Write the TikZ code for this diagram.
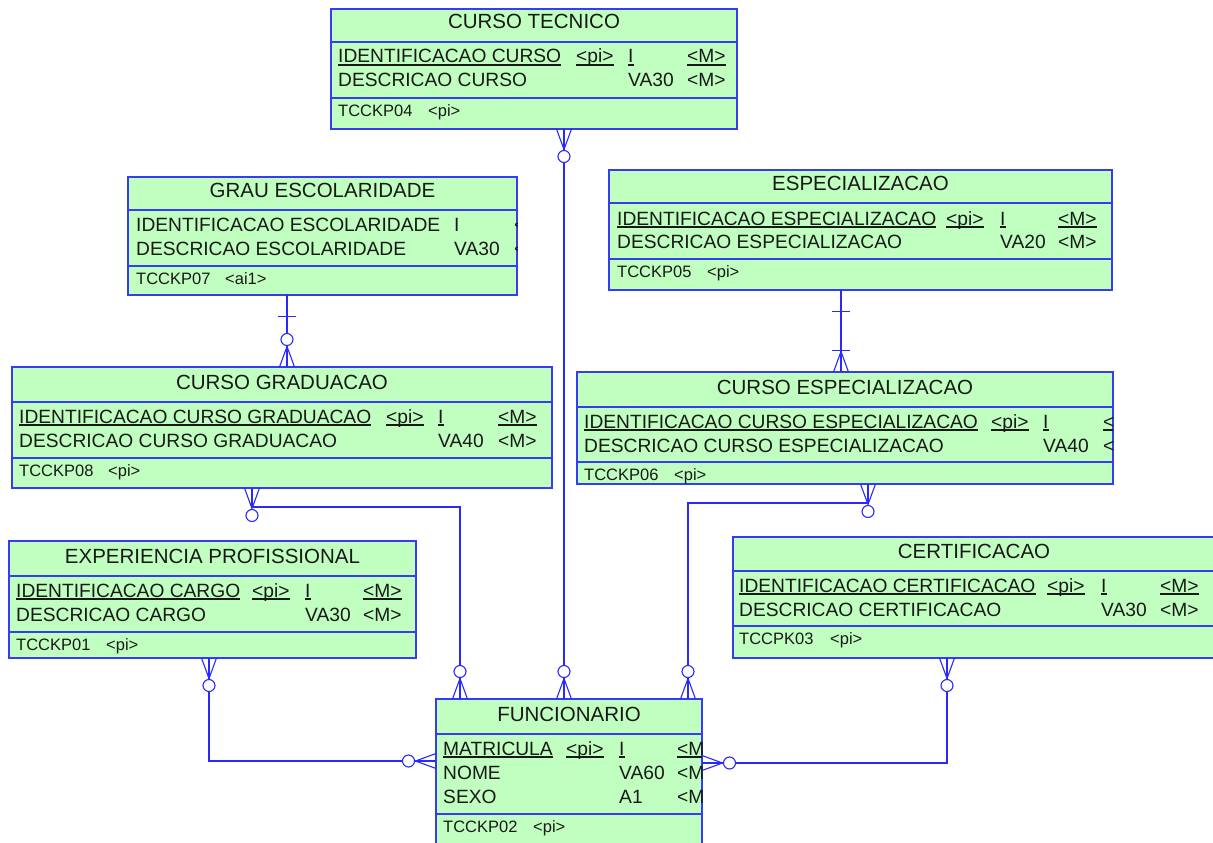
\documentclass[tikz,border=0pt]{standalone}
\usepackage{fontspec}
\setmainfont{Liberation Sans}
\usetikzlibrary{fit}
\definecolor{entfill}{RGB}{192,255,192}
\definecolor{entdraw}{RGB}{55,60,240}
\definecolor{reldraw}{RGB}{40,40,255}
\newcounter{ERn}
\tikzset{
  entbox/.style={draw=entdraw, fill=entfill, line width=1.2pt, inner sep=0pt, outer sep=0pt},
  entline/.style={draw=entdraw, line width=1.2pt},
  ttl/.style={anchor=base, inner sep=0pt, font=\fontsize{20.5}{24}\selectfont, text=black!90},
  atxt/.style={anchor=base west, inner sep=0pt, font=\fontsize{19.2}{22}\selectfont, text=black!90},
  ftxt/.style={anchor=base west, inner sep=0pt, font=\fontsize{16.5}{20}\selectfont, text=black!90},
  ulline/.style={draw=black!90, line width=1.8pt},
  rel/.style={draw=reldraw, line width=1.1pt},
  optc/.style={draw=reldraw, fill=white, line width=1.1pt}
}
\newcommand{\ERbox}[8]{%
  \node[entbox, fit={(#2,#4) (#3,#7)}] (#1) {};
  \draw[entline] (#2,#5) -- (#3,#5);
  \draw[entline] (#2,#6) -- (#3,#6);
  \node[ttl] (#1t) at ({(#2+#3)/2},{#5-13}) {#8};
}
\newcommand{\ERt}[3]{\stepcounter{ERn}\node[atxt] (lb\theERn) at (#1,#2) {#3};}
\newcommand{\ERk}[3]{\stepcounter{ERn}\node[atxt] (lb\theERn) at (#1,#2) {#3};
  \draw[ulline] ([yshift=-2.2pt]lb\theERn.base west) -- ([yshift=-2.2pt]lb\theERn.base east);}
\newcommand{\ERf}[3]{\stepcounter{ERn}\node[ftxt] (lb\theERn) at (#1,#2) {#3};}
% crow's foot + optional circle; #1 point on entity edge, #2 rotation (0=down,180=up,90=right,-90=left)
\newcommand{\ERmanyopt}[2]{%
  \begin{scope}[shift={#1}, rotate=#2]
    \draw[rel] (-7.5,0) -- (0,20.5) -- (7.5,0) (0,0) -- (0,20.5);
    \draw[optc] (0,27.5) circle[radius=6pt];
  \end{scope}}
\newcommand{\ERmanymand}[2]{%
  \begin{scope}[shift={#1}, rotate=#2]
    \draw[rel] (-7.5,0) -- (0,20.5) -- (7.5,0) (0,0) -- (0,20.5);
    \draw[rel] (-9,21.5) -- (9,21.5);
  \end{scope}}
\newcommand{\ERone}[2]{%
  \begin{scope}[shift={#1}, rotate=#2]
    \draw[rel] (-9,21.5) -- (9,21.5);
  \end{scope}}
\begin{document}
\begin{tikzpicture}[x=1pt,y=-1pt]
\useasboundingbox (0,0) rectangle (1213,843);
\clip (0,0) rectangle (1213,843);
\fill[white] (0,0) rectangle (1213,843);

% CURSO TECNICO
\ERbox{ct}{331}{737}{9}{42}{98}{129}{CURSO TECNICO}
\ERk{338}{63}{IDENTIFICACAO CURSO}\ERk{576}{63}{<pi>}\ERk{628}{63}{I}\ERk{687}{63}{<M>}
\ERt{338}{87}{DESCRICAO CURSO}\ERt{628}{87}{VA30}\ERt{687}{87}{<M>}
\ERf{338}{116}{TCCKP04}\ERf{428}{116}{<pi>}

% GRAU ESCOLARIDADE
\ERbox{ge}{128}{517}{177}{210}{266}{295}{GRAU ESCOLARIDADE}
\begin{scope}
\clip (128,177) rectangle (517,295);
\ERt{136}{231}{IDENTIFICACAO ESCOLARIDADE}\ERt{454}{231}{I}\ERt{514}{231}{<M>}
\ERt{136}{255}{DESCRICAO ESCOLARIDADE}\ERt{454}{255}{VA30}\ERt{514}{255}{<M>}
\end{scope}
\ERf{136}{284}{TCCKP07}\ERf{225}{284}{<ai1>}

% CURSO GRADUACAO
\ERbox{cg}{12}{552}{367}{402}{458}{488}{CURSO GRADUACAO}
\ERk{19}{423}{IDENTIFICACAO CURSO GRADUACAO}\ERk{386}{423}{<pi>}\ERk{438}{423}{I}\ERk{498}{423}{<M>}
\ERt{19}{447}{DESCRICAO CURSO GRADUACAO}\ERt{438}{447}{VA40}\ERt{498}{447}{<M>}
\ERf{19}{476}{TCCKP08}\ERf{108}{476}{<pi>}

% EXPERIENCIA PROFISSIONAL
\ERbox{ep}{9}{416}{541}{576}{632}{658}{EXPERIENCIA PROFISSIONAL}
\ERk{16}{597}{IDENTIFICACAO CARGO}\ERk{252}{597}{<pi>}\ERk{305}{597}{I}\ERk{363}{597}{<M>}
\ERt{16}{621}{DESCRICAO CARGO}\ERt{305}{621}{VA30}\ERt{363}{621}{<M>}
\ERf{16}{650}{TCCKP01}\ERf{106}{650}{<pi>}

% ESPECIALIZACAO
\ERbox{es}{609}{1112}{170}{203}{259}{290}{ESPECIALIZACAO}
\ERk{617}{225}{IDENTIFICACAO ESPECIALIZACAO}\ERk{946}{225}{<pi>}\ERk{1000}{225}{I}\ERk{1058}{225}{<M>}
\ERt{617}{248}{DESCRICAO ESPECIALIZACAO}\ERt{1000}{248}{VA20}\ERt{1058}{248}{<M>}
\ERf{617}{277}{TCCKP05}\ERf{707}{277}{<pi>}

% CURSO ESPECIALIZACAO
\ERbox{ce}{577}{1113}{372}{407}{462}{484}{CURSO ESPECIALIZACAO}
\begin{scope}
\clip (577,372) rectangle (1113,484);
\ERk{584}{428}{IDENTIFICACAO CURSO ESPECIALIZACAO}\ERk{991}{428}{<pi>}\ERk{1043}{428}{I}\ERk{1103}{428}{<M>}
\ERt{584}{452}{DESCRICAO CURSO ESPECIALIZACAO}\ERt{1043}{452}{VA40}\ERt{1103}{452}{<M>}
\end{scope}
\ERf{584}{480}{TCCKP06}\ERf{674}{480}{<pi>}

% CERTIFICACAO
\ERbox{cr}{733}{1215}{537}{571}{626}{658}{CERTIFICACAO}
\ERk{739}{592}{IDENTIFICACAO CERTIFICACAO}\ERk{1047}{592}{<pi>}\ERk{1101}{592}{I}\ERk{1160}{592}{<M>}
\ERt{739}{616}{DESCRICAO CERTIFICACAO}\ERt{1101}{616}{VA30}\ERt{1160}{616}{<M>}
\ERf{739}{644}{TCCPK03}\ERf{830}{644}{<pi>}

% FUNCIONARIO
\ERbox{fu}{436}{702}{699}{734}{814}{852}{FUNCIONARIO}
\begin{scope}
\clip (436,699) rectangle (702,852);
\ERk{443}{755}{MATRICULA}\ERk{566}{755}{<pi>}\ERk{619}{755}{I}\ERk{677}{755}{<M>}
\ERt{443}{779}{NOME}\ERt{619}{779}{VA60}\ERt{677}{779}{<M>}
\ERt{443}{803}{SEXO}\ERt{619}{803}{A1}\ERt{677}{803}{<M>}
\end{scope}
\ERf{443}{832}{TCCKP02}\ERf{533}{832}{<pi>}

% connector coordinates
\coordinate (xa) at (564,0);
\coordinate (xb) at (252,0);
\coordinate (xc) at (460,0);
\coordinate (yb) at (0,507);
\coordinate (xd) at (209,0);
\coordinate (yd) at (0,761);
\coordinate (xe) at (287,0);
\coordinate (xf) at (841,0);
\coordinate (xg) at (868,0);
\coordinate (xh) at (688,0);
\coordinate (yg) at (0,503);
\coordinate (xi) at (947,0);
\coordinate (yi) at (0,763);

% CURSO TECNICO -- FUNCIONARIO
\draw[rel] (ct.south -| xa) -- (fu.north -| xa);
\ERmanyopt{(ct.south -| xa)}{0}
\ERmanyopt{(fu.north -| xa)}{180}
% CURSO GRADUACAO -- FUNCIONARIO
\draw[rel] (cg.south -| xb) -- (xb |- yb) -- (xc |- yb) -- (fu.north -| xc);
\ERmanyopt{(cg.south -| xb)}{0}
\ERmanyopt{(fu.north -| xc)}{180}
% EXPERIENCIA PROFISSIONAL -- FUNCIONARIO
\draw[rel] (ep.south -| xd) -- (xd |- yd) -- (fu.west |- yd);
\ERmanyopt{(ep.south -| xd)}{0}
\ERmanyopt{(fu.west |- yd)}{-90}
% GRAU ESCOLARIDADE -- CURSO GRADUACAO
\draw[rel] (ge.south -| xe) -- (cg.north -| xe);
\ERone{(ge.south -| xe)}{0}
\ERmanyopt{(cg.north -| xe)}{180}
% ESPECIALIZACAO -- CURSO ESPECIALIZACAO
\draw[rel] (es.south -| xf) -- (ce.north -| xf);
\ERone{(es.south -| xf)}{0}
\ERmanymand{(ce.north -| xf)}{180}
% CURSO ESPECIALIZACAO -- FUNCIONARIO
\draw[rel] (ce.south -| xg) -- (xg |- yg) -- (xh |- yg) -- (fu.north -| xh);
\ERmanyopt{(ce.south -| xg)}{0}
\ERmanyopt{(fu.north -| xh)}{180}
% CERTIFICACAO -- FUNCIONARIO
\draw[rel] (cr.south -| xi) -- (xi |- yi) -- (fu.east |- yi);
\ERmanyopt{(cr.south -| xi)}{0}
\ERmanyopt{(fu.east |- yi)}{90}
\end{tikzpicture}
\end{document}
